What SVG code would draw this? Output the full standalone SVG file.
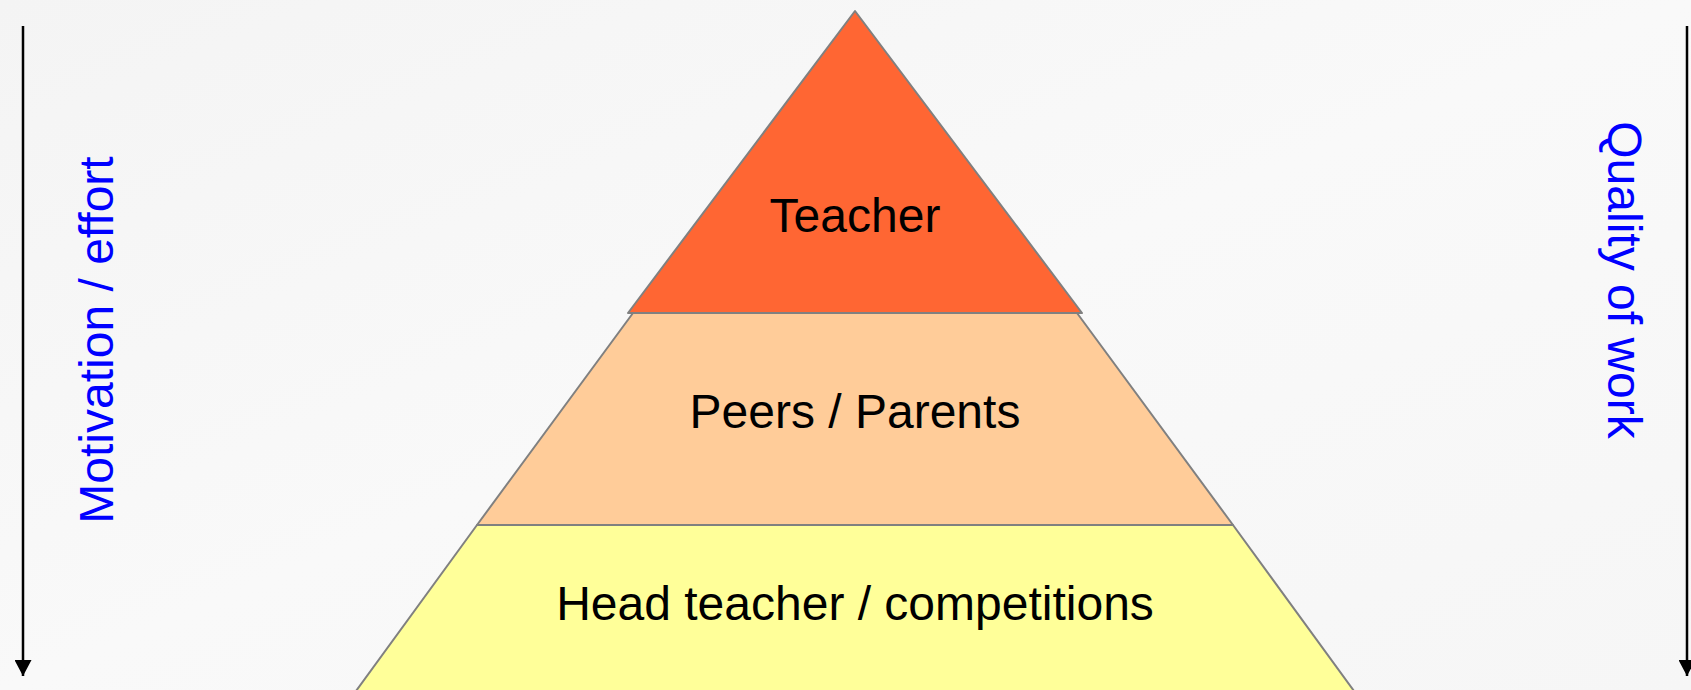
<svg xmlns="http://www.w3.org/2000/svg" width="1691" height="690" viewBox="0 0 1691 690">
<defs>
<linearGradient id="bg" x1="0" y1="0" x2="1" y2="1">
<stop offset="0" stop-color="#f4f4f4"/>
<stop offset="0.5" stop-color="#f9f9f9"/>
<stop offset="1" stop-color="#f6f6f6"/>
</linearGradient>
<marker id="arr" markerWidth="17" markerHeight="17" viewBox="0 0 17 17" refX="16" refY="8.5" orient="auto" markerUnits="userSpaceOnUse">
<path d="M0,0 L16,8.5 L0,17 Z" fill="#000"/>
</marker>
</defs>
<style>
.band{stroke:#808080;stroke-width:2;stroke-linejoin:round}
.lbl{font-family:"Liberation Sans",Arial,sans-serif;font-size:48px;fill:#000;text-anchor:middle}
.side{font-family:"Liberation Sans",Arial,sans-serif;font-size:48px;fill:#0000ff;text-anchor:middle}
.axis{stroke:#000;stroke-width:2.5;fill:none}
</style>
<rect width="1691" height="690" fill="url(#bg)"/>
<g id="connectors">
<line class="axis" x1="23" y1="26" x2="23" y2="676" marker-end="url(#arr)"/>
<line class="axis" x1="1687" y1="26" x2="1687" y2="676" marker-end="url(#arr)"/>
</g>
<g id="base">
<polygon class="band" fill="#ffff99" points="477,525 1233,525 1354,691 356,691"/>
<text class="lbl" x="855" y="620">Head teacher / competitions</text>
</g>
<g id="middle">
<polygon class="band" fill="#ffcc99" points="633,313 1077,313 1233,525 477,525"/>
<text class="lbl" x="855" y="428">Peers / Parents</text>
</g>
<g id="top">
<polygon class="band" fill="#ff6633" points="855,11 1082,313 628,313"/>
<text class="lbl" x="855" y="232">Teacher</text>
</g>
<g id="left-label">
<text class="side" transform="translate(113,340) rotate(-90)">Motivation / effort</text>
</g>
<g id="right-label">
<text class="side" transform="translate(1608,280) rotate(90)">Quality of work</text>
</g>
</svg>
